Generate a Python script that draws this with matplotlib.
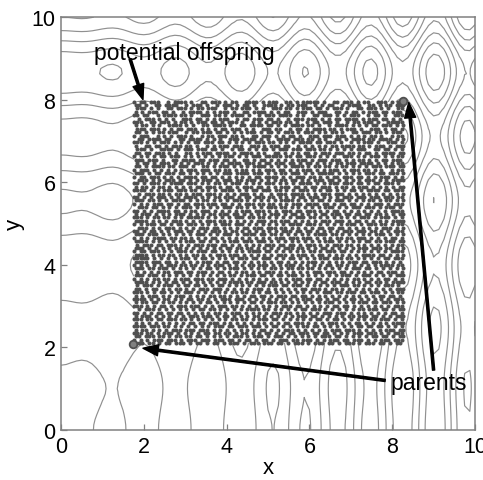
import matplotlib
matplotlib.use('Agg')
import matplotlib.pyplot as plt
import numpy as np

plt.rcParams['font.family'] = ['Liberation Sans', 'DejaVu Sans']

# Contour surface: separable profiles, sampled every 0.125. Estimated values,
# worked out by hand from x*sin(4x) + 1.1*y*sin(2y), checked against the picture
grid = [0.125 * i for i in range(81)]
x_profile = [0.0, 0.06, 0.21, 0.37, 0.45, 0.37, 0.11, -0.31, -0.76, -1.1, -1.2, -0.97, -0.42, 0.35,
             1.15, 1.76, 1.98, 1.7, 0.93, -0.18, -1.36, -2.3, -2.75, -2.51, -1.61, -0.21, 1.37, 2.71,
             3.47, 3.38, 2.44, 0.79, -1.15, -2.94, -4.06, -4.27, -3.38, -1.62, 0.71, 2.95, 4.56, 5.11,
             4.41, 2.5, -0.05, -2.74, -4.86, -5.86, -5.45, -3.63, -0.83, 2.22, 4.97, 6.4, 6.38, 4.83,
             1.86, -1.6, -4.86, -6.94, -7.41, -6.05, -3.14, 0.66, 4.41, 7.18, 8.25, 7.3, 4.48, 0.5,
             -3.75, -7.18, -8.96, -8.5, -5.97, -1.85, 2.79, 6.91, 9.41, 9.61, 7.45]
y_profile = [0.0, 0.03, 0.13, 0.28, 0.46, 0.65, 0.82, 0.95, 1.0, 0.96, 0.82, 0.58, 0.23, -0.19,
             -0.68, -1.18, -1.67, -2.09, -2.42, -2.61, -2.64, -2.48, -2.13, -1.61, -0.92, -0.11, 0.77,
             1.67, 2.53, 3.28, 3.87, 4.25, 4.35, 4.19, 3.73, 3.0, 2.04, 0.88, -0.39, -1.72, -2.99,
             -4.15, -5.09, -5.75, -6.05, -6.05, -5.53, -4.69, -3.54, -2.05, -0.45, 1.33, 3.0, 4.63,
             5.97, 7.01, 7.63, 7.79, 7.46, 6.63, 5.37, 3.69, 1.88, -0.36, -2.53, -4.61, -6.46, -7.95,
             -8.99, -9.48, -9.39, -8.7, -7.44, -5.67, -3.48, -1.03, 1.57, 4.13, 6.5, 8.5, 10.04]
levels = [-15, -10, -5, 0, 5, 10, 15, 20]

# Offspring cloud, coarse occupancy read row by row, top row first
x_start, x_end = 1.76, 8.27
y_start, y_end = 7.95, 2.1
dot_rows = [
    "#.##.###..#.####.#..##.###.#.##..####.#.###..##.#.#####.#..##.###.#.##..###.#.##",
    "##.#..##.####..#.###.#..#.###.#.##.#..####.#.##.###..#.#.##..#.####..##.#.##.###",
    ".###.#.#..##.###.#.##.###..#.##.###.#.#..###.##.#.###.##.#.###.#..##.###.#.#..##",
    "#.#.###.##.#..#.####.#.#.###.#..##.####.#.#.##..###.#.###..##.#.##.#.###.##.###.",
    "##.##..#.####.##.#..###.##.#.####.#..#.###.####.#.#..##.###.#.#.###..#.##.#..###",
    ".#.###.#.#.#..###.##.#.#.###..#.##.###.##.#..#.###.###.#.#.##.####.#.###.##.#.#.",
    "###..##.###.#.##.#.###.##.#.###.#..#.#.#.###.##.#..#.##.###.#..#.##.###.#..#####",
    "#.##.#.#..####.#.#..##.####.#..##.####.##.#.#.####.##.#..#.####.#.#.#.##.###.#.#",
    ".###.###.#.#.##.###.#.#.#.##.###.#.#..###.##..#.##.#.####.##.#.###.#..###.#.##.#",
    "##.#.#.##.###..#.##.###.##.#.#.#.###.#.##.#.###.#.###.#.#.##.#..##.###.##.#.###.",
    "#.###..#.#.#.###.#..#.##.###.##.#..##.###.#.#.##.#..###.###.###.#.#.#.##.#..#.##",
    ".##.####.##..##.####.#.#.#..###.####.#.#..####.###.##.#.#..##.#.####.##.####.#.#",
    "###.#.#.###.#.#.#.##.###.##.#.#.#.#.###.##.#.#.#.####.##.###.#..#.#.###.#..###.#",
    "#..##.##.#.###.##.#..#.#.###.###..###.#.###.##..#.#.#.#.#.##.####.##.#.###.#.###",
    ".###.#..####.#.###.###.##.#..#.##.#.#.##.#.###.###.###.##.#.#.#.#.###..##.##.#.#",
    "##.##.###.#.#..##.#.###.####.#.####.#.#..##.#.#.#.##.#.###.###.##.#.##.#.####.##",
    "#.#.#.#.##.###.#.#.#.#.#.#.###.#.#.###.#####.##.##.###.#.#.#..###.#.#.###.#.#.##",
    "###.###.#..##.####.##.###.##.#..##.#.##.#.#.#.#.###.#.###.###.#.#.##.#.#.##.###.",
    ".#.##.#.###.#.#.#.###.#.#.#.####.###.#.##.###.##.#.##.#.#.#.##.###.####.#.#.#.##",
    "##.#.####.##.###.#..##.#.###.#.#.#.####.#.#.#.####.#.##.##.#.##.#.#.#.###.###.##",
    "#.###.#.#.#.#.#.###.###.##.##.#.##.#.#.###.##.#.#.###.#.#.###.#.###.##.#.#..#.##",
    "###.#.##.###.##.#.#.#.#.#.###.####.###.#.#.##.###.#.#.#####.#.#.#.#.###.##.###.#",
    "#.##.###.#.#.#.####.##.##.#.#.#.#.#.##.####.#.#.###.##.#.#.##.###.##.#.#.###.#.#",
    ".###.#.#.###.##.#.#.###.#.###.##.###.#.#.#.##.##.#.#.###.##.#.#.#.#.###.#.#.####",
    "##.#.###.#.####.###.#.#.##.#.###.#.#.#.###.#.#.#.####.#.#.###.###.##.#.##.###.#.",
    "#.##.#.##.#.#.#.#.##.###.#.##.#.###.##.#.#.###.##.#.##.###.#.##.#.###.#.#.#.#.##",
    "####.#.#.###.###.##.#.#.#.####.#.#.##.###.##.#.#.###.#.#.##.#.#.##.#.####.##.###",
    ".#.###.##.#.##.#.###.###.#.#.#.###.#.#..#.###.####.#.#.###.###.#.#.#.#.#.#.#.#.#",
    "##.#.#.###.#.#.####.#.#.##.###.#.##.###.##.#.#.#.##.###.#.#.#.###.###.###.###.##",
    "###.##.#.#.####.#.#.##.#.#.#.###.#.#.#.#.#.####.#.#.#.##.#.###.#.#.#.##.#.##.#.#",
    "#.#.#.###.##.#.##.###.###.##.#.#.###.##.##.#.#.###.####.##.#.##.##.#.#.###.#.###",
    ".###.##.#.#.#.###.#.#.#.#.###.##.#.#.#.###.##.#.#.#.#.#.###.#.#.###.###.#.###.#.",
    "##.#.#.####.##.#.##.###.#.#.#.#.###.###.#.#.###.##.###.#.#.##.#.#.#.#.#.#.#.####",
    "#.###.#.#.#.###.#.#.#.##.###.##.#.#.#.#.###.#.##.#.#.#.##.###.##.##.##.##.#.#.##",
    "###.#.##.##.#.#.#####.#.#.#.#.###.##.##.#.#.#.#.###.##.#.#.#.#.#.#.###.#.###.#.#",
    "####.#.#.#.###.#.#.#.###.##.#.#.#.#.###.##.###.#.#.#.#.###.###.#.##.#.#.#.#.####",
    "#.#.###.##.#.##.###.#.#.#.###.###.#.#.#.#.#.#.####.###.#.#.#.#.###.#.###.##.#.##",
    ".###.#.#.###.#.#.#.###.##.#.#.#.##.###.###.##.#.#.#.#.##.##.##.#.#.#.#.#.###.#.#",
    "##.#.##.#.#.###.##.#.#.###.#.##.#.#.#.#.#.#.###.##.##.#.#.#.#.###.###.##.#.#.###",
    "###.###.#.#.#.#.#.###.#.#.###.#.####.##.##.#.#.#.#.#.####.##.#.#.#.#.#.###.#.#.#",
    "#.#.#.####.##.##.#.#.#.##.#.#.#.#.#.#.#.#.###.###.###.#.#.#.##.##.###.#.#.#.##.#",
    "####.#.#.#.#.#.###.##.#.#.#.###.###.###.#.#.#.#.#.#.#.#.###.#.#.#.#.##.##.###.##",
    ".#.###.##.###.#.#.###.###.##.#.#.#.#.#.###.##.##.#.###.#.#.###.##.#.#.#.#.#.#.##",
    "###.#.#.#.#.##.#.#.#.#.#.#.##.##.##.#.#.#.#.###.##.#.#.##.#.#.#.#.###.###.##.#.#",
    "#.##.###.#.#.###.#.###.##.#.#.#.#.####.##.#.#.#.#.#.##.#.###.##.#.#.#.#.#.#.####",
    "####.#.##.##.#.#.##.#.#.###.###.#.#.#.#.#.###.#.###.#.##.#.#.#.#.#.####.##.#.#.#",
    "#####.#.#.#.#.###.#.##.#.#.#.#.###.##.###.#.#.##.#.#.#.###.###.##.#.#.#.#.##.###",
    "####.###.##.#.#.#.#.###.#.##.##.#.#.#.#.#.##.#.#.#.###.#.#.#.#.###.##.###.#.#.#.",
    "#.#.#.#.#.###.##.##.#.#.###.#.#.#.##.###.#.#.###.#.#.#.#.##.##.#.#.#.#.#.####.##",
    "###.##.###.#.#.#.#.#.##.#.#.###.#.#.#.#.##.#.##.##.##.#.#.#.#.#.###.##.#.#.#.#.#",
    ".#.#.#.#.##.###.##.###.#.##.#.#.##.#.#.###.#.#.#.#.#.###.###.##.#.#.#.#.##.###.#",
    "###.###.#.#.#.#.#.#.#.#.#.#.##.#.###.##.#.##.###.#.#.#.#.#.#.###.#.###.#.#.#.###",
    "#.#.#.##.##.#.###.###.##.###.#.#.#.#.#.#.#.#.#.###.##.##.#.#.#.#.##.#.#.#.##.#.#",
    "####.#.#.#.##.#.#.#.#.#.#.#.####.##.###.##.#.#.#.#.#.#.##.###.#.#.#.##.##.#.####",
    ".#.###.#.###.#.##.##.#.#.##.#.#.#.#.#.#.###.##.###.#.#.#.#.#.###.##.#.#.#.###.#.",
    "##.#.##.#.#.##.#.#.###.###.#.#.#.#.###.#.#.#.#.#.##.###.#.##.#.#.#.#.#.#.#.#.###",
    "###.#.#.##.#.#.###.#.#.#.#.#.##.##.#.#.##.#.#.#.#.#.#.#.###.##.###.##.###.#.#.##",
    "#.#.###.#.#.###.#.#.#.##.##.#.#.#.##.##.#.###.##.##.#.#.#.#.#.#.#.#.#.#.##.##.#.",
    "####.#.#.##.#.#.##.##.#.#.###.###.#.#.#.#.#.#.#.#.###.##.#.##.#.##.#.#.#.#.#.###",
    "#.##.##.#.##.#.#.#.#.##.#.#.#.#.#.##.#.###.##.#.#.#.#.#.###.#.#.#.###.##.###.#.#",
    "###.#.#.##.#.###.###.#.#.###.##.#.#.#.#.#.#.###.##.#.#.#.#.##.##.#.#.#.#.#.#.###",
    ".#.###.#.#.#.#.#.#.##.##.#.#.#.#.####.##.#.#.#.#.##.###.#.#.#.#.#.##.###.##.#.##",
    "##.#.#.##.##.##.#.#.#.#.##.#.###.#.#.#.#.###.##.#.#.#.#.###.###.#.#.#.#.#.#.##.#",
    "#.###.#.#.#.#.#.###.###.#.##.#.#.#.##.#.#.#.#.#.###.##.#.#.#.#.##.###.##.#.#.###",
    "###.##.##.###.##.#.#.#.#.#.#.##.##.#.###.##.#.#.#.#.#.##.#.##.#.#.#.#.##.###.#.#",
    "#.#.#.#.#.#.#.#.##.##.###.#.#.#.#.#.#.#.#.#.##.###.#.#.#.###.#.#.##.#.#.#.#.####",
    "####.###.##.#.#.#.#.#.#.###.##.###.###.#.##.#.#.#.##.##.#.#.#.#.#.##.##.##.#.#.#",
    "#.##.#.#.#.###.###.###.#.#.#.#.#.#.#.##.#.#.###.#.#.#.#.#.###.###.#.#.#.#.###.##",
    "###.##.#.###.#.#.#.#.##.##.##.#.##.#.#.##.#.#.##.###.##.##.#.#.#.###.###.#.#.###",
    "##.###.##.#.##.##.##.#.#.#.#.###.#.###.#.###.#.#.#.#.#.###.##.#.#.#.#.##.##.#.##",
    "#.#.#.###.###.#.###.###.###.##.#.##.#.##.#.###.##.###.#.#.###.##.###.#.#.###.###",
    "###.##.#.##.###.#.##.#.##.#.###.#.###.###.##.#.###.#.###.##.#.###.#.###.##.#.##.",
]
dot_color = '#505050'

# Parents, labels and arrows
parents_x = [1.74, 8.26]
parents_y = [2.08, 7.97]
offspring_label = 'potential offspring'
parents_label = 'parents'
x_ticks = [0, 2, 4, 6, 8, 10]
y_ticks = [0, 2, 4, 6, 8, 10]

x_dots = []
y_dots = []
n_rows = len(dot_rows)
n_cols = len(dot_rows[0])
x_step = (x_end - x_start) / (n_cols - 0.5)
for r, row in enumerate(dot_rows):
    y = y_start + (y_end - y_start) * r / (n_rows - 1)
    shift = x_step / 2 if r % 2 else 0  # staggered rows look less like a grid
    for c, ch in enumerate(row):
        if ch == '#':
            x_dots.append(x_start + c * x_step + shift)
            y_dots.append(y)

# Create a figure
fig = plt.figure(figsize=(4.83, 4.81), dpi=100)
ax = fig.add_axes([61 / 483, 50 / 481, 414 / 483, 413 / 481])

z = np.add.outer(y_profile, x_profile)
ax.contour(grid, grid, z, levels=levels, colors='#909090', linewidths=0.85, linestyles='solid')
# the cloud hides the contours under it
ax.fill_between([x_start, x_end], y_end, y_start, color='white', lw=0, zorder=2.5)
ax.scatter(x_dots, y_dots, s=8.5, color=dot_color, linewidths=0, zorder=3)
ax.plot(parents_x, parents_y, 'o', ms=5.5, mfc='#808080', mec='#505050', mew=1.3, zorder=4)

arrow = dict(facecolor='black', edgecolor='black', width=1.6, headwidth=8, headlength=11, shrink=0)
ax.annotate('', xy=(1.98, 8.0), xytext=(1.67, 8.98), arrowprops=arrow, zorder=5)
ax.annotate('', xy=(1.98, 1.98), xytext=(7.83, 1.2), arrowprops=arrow, zorder=5)
ax.annotate('', xy=(8.4, 7.93), xytext=(9.0, 1.45), arrowprops=arrow, zorder=5)
ax.text(0.8, 9.15, offspring_label, fontsize=16.5, va='center', ha='left', zorder=6)
ax.text(7.95, 1.16, parents_label, fontsize=16.5, va='center', ha='left', zorder=6)

ax.set_xlim(0, 10)
ax.set_ylim(0, 10)
ax.set_xticks(x_ticks)
ax.set_yticks(y_ticks)
ax.tick_params(direction='in', length=4, width=0.9, color='#808080', labelsize=15.5, pad=4)
for s in ax.spines.values():
    s.set_color('#808080')
    s.set_linewidth(1.1)
ax.set_xlabel('x', fontsize=16, labelpad=0.5)
ax.set_ylabel('y', fontsize=16, labelpad=5)

fig.savefig('out.png', dpi=100)
